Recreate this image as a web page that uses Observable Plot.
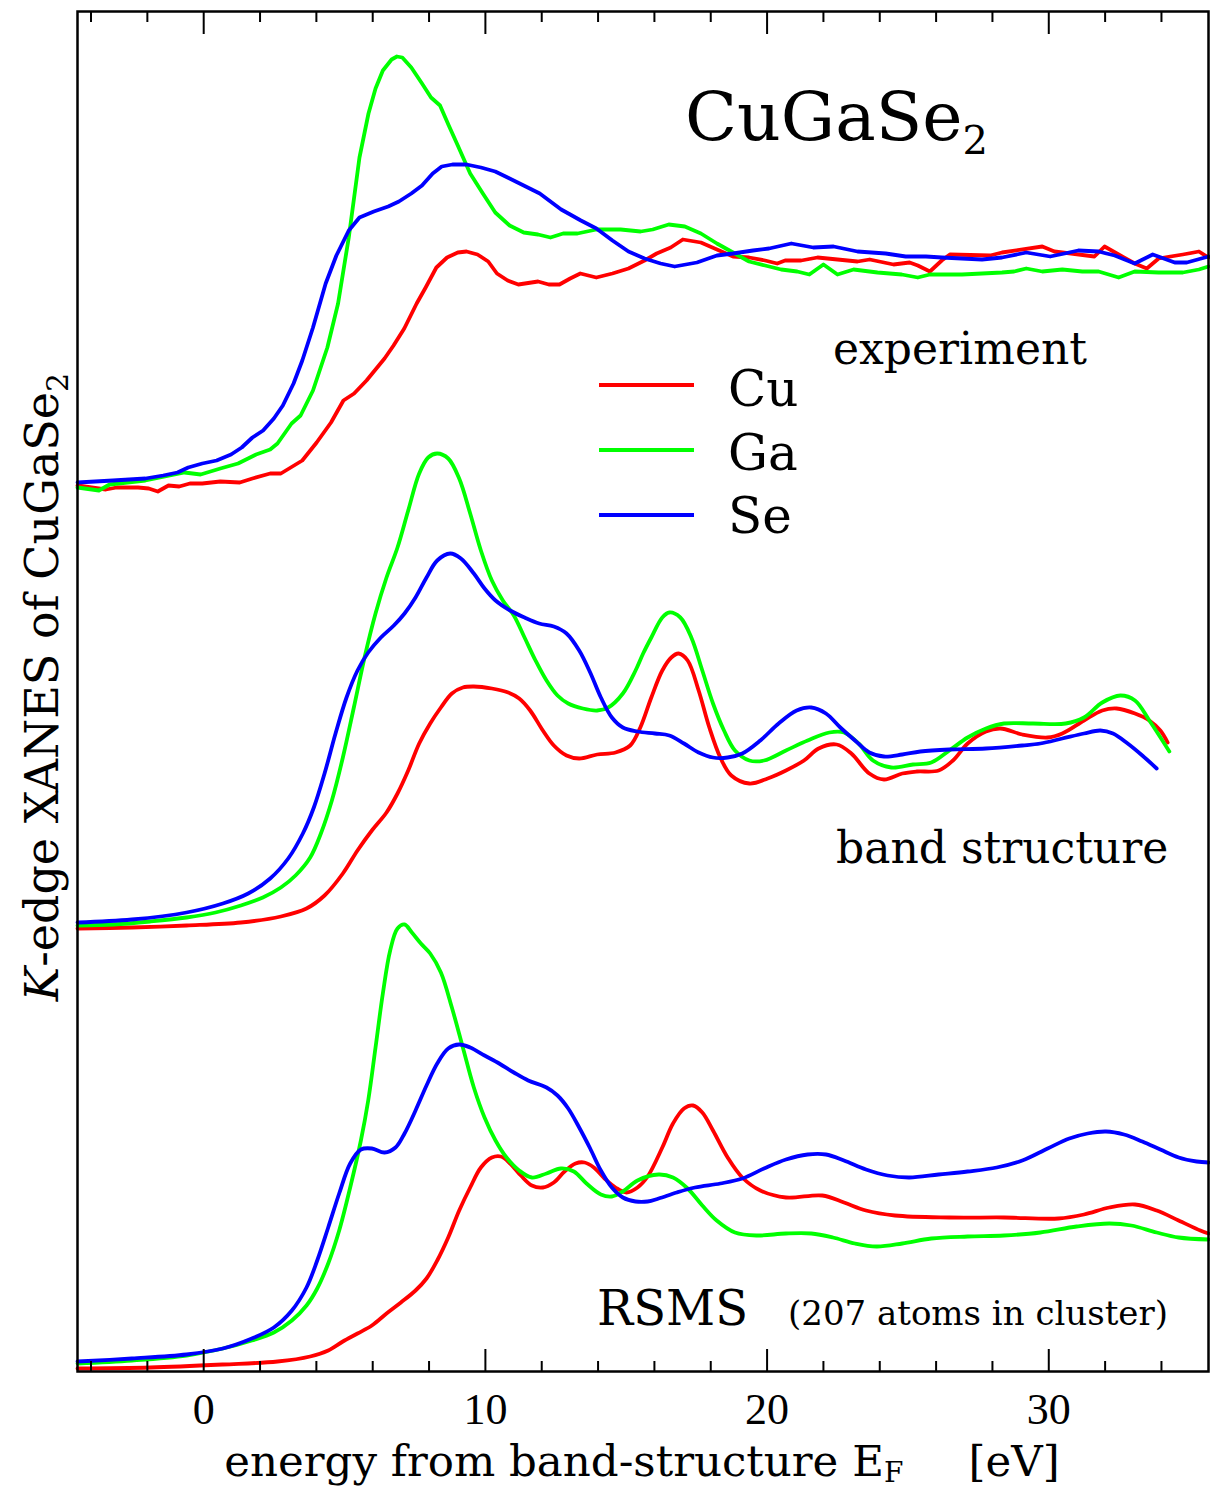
<!DOCTYPE html>
<html><head><meta charset="utf-8">
<script src="https://cdn.jsdelivr.net/npm/d3@7"></script>
<script src="https://cdn.jsdelivr.net/npm/@observablehq/plot@0.6"></script>
<style>body{margin:0;background:#fff} svg{display:block}</style>
</head><body><div id="chart"></div>
<script>
// energy from band-structure E_F [eV], intensity (arbitrary units, stacked panels)
const elements = ["Cu", "Ga", "Se"];
const elementColors = ["#ff0000", "#00ff00", "#0000ff"];
const majorTicks = [0, 10, 20, 30];
const minorTicks = [-4, -2, 2, 4, 6, 8, 12, 14, 16, 18, 22, 24, 26, 28, 32, 34];

// ---- experiment ----
const expCu = [[-4.48,8.86],[-3.98,8.84],[-3.47,8.82],[-3.09,8.84],[-2.33,8.84],[-1.95,8.83],[-1.63,8.80],[-1.25,8.86],[-0.87,8.85],[-0.49,8.88],[-0.05,8.88],[0.59,8.90],[1.28,8.89],[1.73,8.93],[2.36,8.98],[2.74,8.98],[3.50,9.11],[4.01,9.29],[4.52,9.49],[4.96,9.71],[5.34,9.78],[5.78,9.91],[6.42,10.13],[6.74,10.26],[7.12,10.43],[7.56,10.68],[7.88,10.84],[8.26,11.04],[8.64,11.14],[9.02,11.19],[9.33,11.20],[9.72,11.17],[10.10,11.10],[10.41,10.98],[10.79,10.91],[11.17,10.87],[11.87,10.90],[12.25,10.87],[12.63,10.87],[13.01,10.93],[13.37,10.98],[13.94,10.94],[14.51,10.98],[15.08,11.03],[15.65,11.11],[16.08,11.18],[16.58,11.24],[17.01,11.32],[17.65,11.29],[18.22,11.22],[18.79,11.15],[19.36,11.14],[19.93,11.11],[20.36,11.08],[20.64,11.11],[21.21,11.11],[21.79,11.14],[22.50,11.12],[23.21,11.10],[23.64,11.12],[24.49,11.07],[25.06,11.09],[25.35,11.06],[25.78,11.00],[26.20,11.11],[26.49,11.17],[27.92,11.16],[28.34,11.19],[29.77,11.25],[30.20,11.20],[31.62,11.15],[31.98,11.25],[32.48,11.17],[33.05,11.08],[33.48,11.03],[33.90,11.13],[34.76,11.17],[35.33,11.20],[35.67,11.14]];
const expGa = [[-4.48,8.84],[-3.72,8.81],[-3.34,8.87],[-2.07,8.91],[-0.68,8.99],[-0.11,8.97],[0.59,9.03],[1.22,9.08],[1.86,9.17],[2.36,9.22],[2.62,9.28],[3.12,9.48],[3.44,9.56],[3.88,9.81],[4.39,10.24],[4.77,10.68],[5.15,11.34],[5.53,12.14],[5.85,12.58],[6.10,12.83],[6.36,13.01],[6.67,13.12],[6.86,13.15],[7.05,13.14],[7.37,13.04],[7.75,12.88],[8.07,12.74],[8.39,12.66],[8.70,12.46],[9.02,12.26],[9.46,11.98],[9.91,11.78],[10.35,11.59],[10.86,11.46],[11.36,11.39],[11.87,11.37],[12.31,11.34],[12.76,11.38],[13.27,11.38],[13.94,11.42],[14.80,11.42],[15.51,11.40],[15.94,11.42],[16.51,11.47],[17.08,11.45],[17.65,11.38],[18.22,11.28],[18.79,11.19],[19.36,11.10],[19.93,11.06],[20.50,11.02],[21.07,11.00],[21.50,10.97],[22.00,11.07],[22.50,10.97],[23.07,11.02],[23.92,10.99],[24.78,10.97],[25.35,10.94],[25.78,10.97],[26.92,10.97],[28.34,10.99],[28.77,11.00],[29.20,11.03],[29.77,11.00],[30.48,11.02],[31.19,11.00],[31.77,11.00],[32.48,10.94],[33.05,11.00],[33.90,10.99],[34.76,10.99],[35.33,11.02],[35.67,11.05]];
const expSe = [[-4.48,8.89],[-3.22,8.91],[-2.07,8.93],[-1.44,8.96],[-0.93,8.99],[-0.55,9.04],[-0.05,9.08],[0.46,9.11],[0.97,9.17],[1.35,9.24],[1.73,9.34],[2.11,9.41],[2.49,9.53],[2.81,9.66],[3.19,9.88],[3.50,10.11],[3.88,10.44],[4.33,10.88],[4.71,11.16],[5.15,11.41],[5.53,11.54],[6.04,11.60],[6.55,11.65],[6.93,11.70],[7.37,11.78],[7.75,11.86],[8.13,11.98],[8.45,12.05],[8.83,12.07],[9.33,12.07],[9.84,12.04],[10.35,12.00],[10.86,11.93],[11.36,11.86],[11.93,11.78],[12.31,11.70],[12.69,11.62],[13.01,11.57],[13.39,11.51],[13.94,11.43],[14.51,11.31],[15.08,11.20],[15.65,11.13],[16.22,11.08],[16.72,11.05],[17.51,11.09],[18.22,11.16],[18.79,11.18],[19.50,11.21],[20.07,11.23],[20.86,11.28],[21.64,11.24],[22.36,11.25],[23.21,11.20],[24.21,11.18],[24.92,11.15],[25.64,11.15],[26.20,11.14],[27.63,11.12],[28.34,11.14],[29.20,11.19],[30.05,11.15],[31.05,11.21],[31.77,11.20],[32.34,11.16],[33.05,11.08],[33.69,11.17],[34.47,11.09],[34.90,11.09],[35.67,11.15]];

// ---- band structure ----
const bandCu = [[-4.48,4.43],[-2.55,4.44],[-0.61,4.46],[1.32,4.49],[2.74,4.55],[3.65,4.63],[4.29,4.76],[4.94,4.98],[5.46,5.21],[5.97,5.41],[6.49,5.59],[6.88,5.78],[7.26,6.01],[7.65,6.28],[8.04,6.48],[8.42,6.64],[8.81,6.78],[9.20,6.84],[9.59,6.85],[10.23,6.83],[10.81,6.79],[11.20,6.73],[11.59,6.61],[12.04,6.41],[12.43,6.26],[12.88,6.16],[13.33,6.13],[13.97,6.17],[14.62,6.19],[15.14,6.26],[15.50,6.44],[15.89,6.74],[16.28,7.01],[16.60,7.14],[16.86,7.18],[17.18,7.11],[17.57,6.81],[17.95,6.44],[18.34,6.14],[18.73,5.96],[19.37,5.88],[20.02,5.93],[20.67,6.01],[21.31,6.11],[21.83,6.23],[22.47,6.27],[22.99,6.18],[23.63,5.98],[24.15,5.92],[24.80,5.98],[25.31,6.00],[26.09,6.01],[26.60,6.11],[27.12,6.28],[27.77,6.40],[28.28,6.43],[29.06,6.37],[29.96,6.34],[30.48,6.38],[31.25,6.51],[31.90,6.61],[32.41,6.63],[33.06,6.58],[33.57,6.51],[33.96,6.41],[34.22,6.29]];
const bandGa = [[-4.48,4.46],[-3.19,4.47],[-1.90,4.50],[-0.61,4.54],[0.42,4.59],[1.32,4.66],[2.10,4.74],[2.74,4.84],[3.26,4.96],[3.78,5.14],[4.16,5.38],[4.55,5.71],[4.94,6.14],[5.33,6.64],[5.71,7.14],[6.10,7.58],[6.49,7.94],[6.88,8.24],[7.26,8.61],[7.65,8.98],[7.97,9.14],[8.29,9.18],[8.68,9.13],[9.07,8.93],[9.46,8.58],[9.84,8.21],[10.23,7.91],[10.62,7.71],[11.01,7.56],[11.39,7.34],[11.78,7.11],[12.17,6.91],[12.56,6.76],[12.94,6.68],[13.46,6.63],[13.97,6.61],[14.36,6.64],[14.88,6.78],[15.33,7.01],[15.60,7.18],[15.89,7.34],[16.28,7.54],[16.53,7.59],[16.92,7.54],[17.31,7.34],[17.70,7.01],[18.08,6.68],[18.47,6.41],[18.86,6.21],[19.37,6.11],[19.89,6.11],[20.67,6.21],[21.44,6.31],[22.21,6.39],[22.73,6.39],[23.25,6.28],[23.76,6.11],[24.41,6.04],[25.18,6.07],[25.83,6.09],[26.47,6.21],[27.12,6.34],[27.77,6.43],[28.41,6.48],[29.44,6.48],[30.60,6.48],[31.25,6.54],[31.90,6.69],[32.54,6.76],[33.06,6.71],[33.57,6.51],[34.28,6.20]];
const bandSe = [[-4.48,4.49],[-2.55,4.52],[-0.61,4.59],[0.68,4.68],[1.58,4.78],[2.36,4.93],[3.00,5.13],[3.52,5.38],[3.91,5.64],[4.29,5.98],[4.68,6.38],[5.07,6.74],[5.46,7.01],[5.84,7.19],[6.29,7.34],[6.75,7.46],[7.13,7.58],[7.52,7.74],[7.91,7.94],[8.29,8.11],[8.75,8.18],[9.13,8.13],[9.59,7.98],[9.97,7.83],[10.36,7.71],[10.88,7.61],[11.39,7.54],[11.91,7.48],[12.43,7.45],[12.88,7.38],[13.33,7.21],[13.72,6.99],[14.10,6.74],[14.49,6.54],[14.88,6.44],[15.40,6.40],[16.02,6.38],[16.53,6.36],[17.05,6.28],[17.57,6.19],[18.08,6.14],[18.60,6.14],[19.12,6.18],[19.76,6.31],[20.41,6.48],[21.05,6.61],[21.57,6.64],[22.09,6.58],[22.60,6.44],[23.12,6.31],[23.63,6.19],[24.15,6.15],[24.80,6.17],[25.44,6.20],[26.47,6.22],[27.77,6.23],[29.06,6.26],[29.70,6.28],[30.48,6.33],[31.25,6.38],[31.83,6.41],[32.28,6.38],[32.80,6.28],[33.32,6.16],[33.83,6.03]];

// ---- RSMS (207 atoms in cluster) ----
const rsmsCu = [[-4.48,0.03],[-1.90,0.04],[0.68,0.07],[2.62,0.10],[3.78,0.15],[4.42,0.21],[4.94,0.30],[5.46,0.38],[5.97,0.46],[6.49,0.58],[7.00,0.69],[7.52,0.81],[7.91,0.93],[8.29,1.11],[8.68,1.34],[9.07,1.61],[9.46,1.84],[9.84,2.04],[10.23,2.14],[10.55,2.15],[10.88,2.08],[11.26,1.96],[11.65,1.86],[12.04,1.84],[12.43,1.89],[12.81,2.00],[13.20,2.08],[13.52,2.09],[13.85,2.04],[14.23,1.93],[14.62,1.84],[15.01,1.79],[15.40,1.84],[15.76,1.95],[16.28,2.24],[16.66,2.48],[17.05,2.63],[17.37,2.66],[17.70,2.59],[18.08,2.41],[18.60,2.14],[19.12,1.94],[19.76,1.81],[20.67,1.74],[21.96,1.76],[22.73,1.69],[23.51,1.61],[24.54,1.56],[26.47,1.54],[28.41,1.54],[30.35,1.53],[31.25,1.57],[32.15,1.64],[33.06,1.67],[33.83,1.61],[34.61,1.51],[35.38,1.41],[35.67,1.38]];
const rsmsGa = [[-4.48,0.08],[-2.55,0.11],[-0.61,0.16],[0.68,0.23],[1.71,0.31],[2.49,0.39],[3.13,0.51],[3.65,0.66],[4.03,0.83],[4.42,1.08],[4.81,1.41],[5.20,1.84],[5.58,2.31],[5.84,2.71],[6.10,3.24],[6.36,3.78],[6.62,4.21],[6.88,4.43],[7.13,4.47],[7.39,4.39],[7.71,4.28],[8.04,4.18],[8.42,3.99],[8.81,3.64],[9.20,3.24],[9.59,2.84],[9.97,2.54],[10.36,2.31],[10.75,2.14],[11.20,2.01],[11.65,1.94],[12.17,1.98],[12.68,2.03],[13.14,2.00],[13.59,1.88],[14.10,1.77],[14.49,1.75],[14.88,1.80],[15.40,1.91],[16.15,1.97],[16.66,1.94],[17.18,1.83],[17.70,1.66],[18.21,1.51],[18.86,1.39],[19.63,1.36],[20.67,1.38],[21.57,1.38],[22.34,1.34],[23.12,1.28],[23.89,1.25],[24.80,1.28],[25.83,1.33],[27.12,1.35],[28.41,1.36],[29.70,1.39],[30.99,1.45],[32.15,1.48],[32.93,1.46],[33.83,1.39],[34.61,1.34],[35.67,1.32]];
const rsmsSe = [[-4.48,0.10],[-2.55,0.13],[-0.61,0.17],[0.68,0.23],[1.71,0.33],[2.49,0.44],[3.13,0.61],[3.65,0.84],[4.03,1.11],[4.42,1.44],[4.81,1.78],[5.20,2.08],[5.58,2.22],[5.97,2.23],[6.42,2.19],[6.81,2.24],[7.13,2.38],[7.52,2.61],[7.91,2.86],[8.29,3.08],[8.68,3.23],[9.07,3.27],[9.46,3.24],[9.97,3.16],[10.49,3.08],[11.01,2.99],[11.52,2.91],[12.17,2.84],[12.56,2.76],[12.94,2.63],[13.33,2.44],[13.72,2.23],[14.10,2.01],[14.49,1.84],[14.88,1.74],[15.33,1.70],[15.76,1.70],[16.15,1.73],[16.79,1.79],[17.44,1.84],[18.34,1.88],[19.12,1.93],[19.89,2.03],[20.67,2.12],[21.44,2.17],[22.09,2.17],[22.73,2.11],[23.51,2.02],[24.28,1.96],[25.05,1.94],[26.09,1.97],[27.12,2.00],[28.15,2.04],[29.06,2.11],[29.96,2.23],[30.73,2.33],[31.38,2.38],[32.03,2.40],[32.67,2.37],[33.32,2.30],[33.96,2.22],[34.61,2.14],[35.25,2.10],[35.67,2.09]];

// ---- build tables ----
function rows(set, el, pts) { return pts.map(([e, v]) => ({set, el, e, v})); }
const expRows = [...rows("experiment","Cu",expCu), ...rows("experiment","Ga",expGa), ...rows("experiment","Se",expSe)];
const theoryRows = [...rows("band","Cu",bandCu), ...rows("band","Ga",bandGa), ...rows("band","Se",bandSe),
                    ...rows("rsms","Cu",rsmsCu), ...rows("rsms","Ga",rsmsGa), ...rows("rsms","Se",rsmsSe)];

const W = 1210, H = 1491;
const serif = "'DejaVu Serif', serif";
const plot = Plot.plot({
  width: W, height: H,
  marginLeft: 77, marginRight: 2, marginTop: 11, marginBottom: 120,
  style: {background: "#fff", fontFamily: serif, color: "#000"},
  x: {domain: [-4.48, 35.67]},
  y: {domain: [0, 13.6], axis: null},
  color: {domain: elements, range: elementColors},
  marks: [
    Plot.line(expRows, {x: "e", y: "v", z: d => d.set + d.el, stroke: "el", strokeWidth: 3.8, curve: "linear", strokeLinejoin: "round"}),
    Plot.line(theoryRows, {x: "e", y: "v", z: d => d.set + d.el, stroke: "el", strokeWidth: 3.8, curve: "catmull-rom"}),
    Plot.axisX({anchor: "bottom", ticks: majorTicks, tickSize: -22, strokeWidth: 2, tickFormat: () => "", label: null}),
    Plot.axisX({anchor: "bottom", ticks: minorTicks, tickSize: -10, strokeWidth: 2, tickFormat: () => "", label: null}),
    Plot.axisX({anchor: "top", ticks: majorTicks, tickSize: -22, strokeWidth: 2, tickFormat: () => "", label: null}),
    Plot.axisX({anchor: "top", ticks: minorTicks, tickSize: -10, strokeWidth: 2, tickFormat: () => "", label: null}),
    Plot.axisX({anchor: "bottom", ticks: majorTicks, tickSize: 0, tickPadding: 21, fontSize: 44, fontFamily: "'Liberation Serif', serif", label: null}),
    Plot.frame({stroke: "#000", strokeWidth: 2.5})
  ]
});
document.getElementById("chart").appendChild(plot);

// ---- annotations ----
const svg = d3.select(plot);
const g = svg.append("g").attr("font-family", serif).attr("fill", "#000");

function addText(x, y, size, parts, anchor = "start", transform = null) {
  const t = g.append("text").attr("x", x).attr("y", y).attr("font-size", size).attr("text-anchor", anchor);
  if (transform) t.attr("transform", transform);
  for (const p of parts) {
    const s = t.append("tspan").text(p.t);
    if (p.size) s.attr("font-size", p.size);
    if (p.dy) s.attr("dy", p.dy);
    if (p.italic) s.attr("font-style", "italic");
  }
  return t;
}

// title
addText(685, 140, 68, [{t: "CuGaSe"}, {t: "2", size: 40, dy: 14}]);
// panel labels
addText(833, 364, 44, [{t: "experiment"}]);
addText(836, 863, 44, [{t: "band structure"}]);
addText(597, 1325, 48, [{t: "RSMS"}]);
addText(788, 1325, 34, [{t: "(207 atoms in cluster)"}]);
// y label
addText(0, 0, 46, [{t: "K", italic: true}, {t: "-edge XANES of CuGaSe"}, {t: "2", size: 30, dy: 10}], "middle", "translate(58,687) rotate(-90)");
// x label
addText(642, 1476, 43.5, [{t: "energy from band-structure E"}, {t: "F", size: 28, dy: 6}, {t: "\u2003\u2002[eV]", dy: -6}], "middle");

// legend
const legendY = [385, 450, 515];
const legendBase = [406, 470, 533];
elements.forEach((el, i) => {
  g.append("line").attr("x1", 599).attr("x2", 694).attr("y1", legendY[i]).attr("y2", legendY[i])
    .attr("stroke", elementColors[i]).attr("stroke-width", 4);
  addText(728, legendBase[i], 50, [{t: el}]);
});
</script>
</body></html>
